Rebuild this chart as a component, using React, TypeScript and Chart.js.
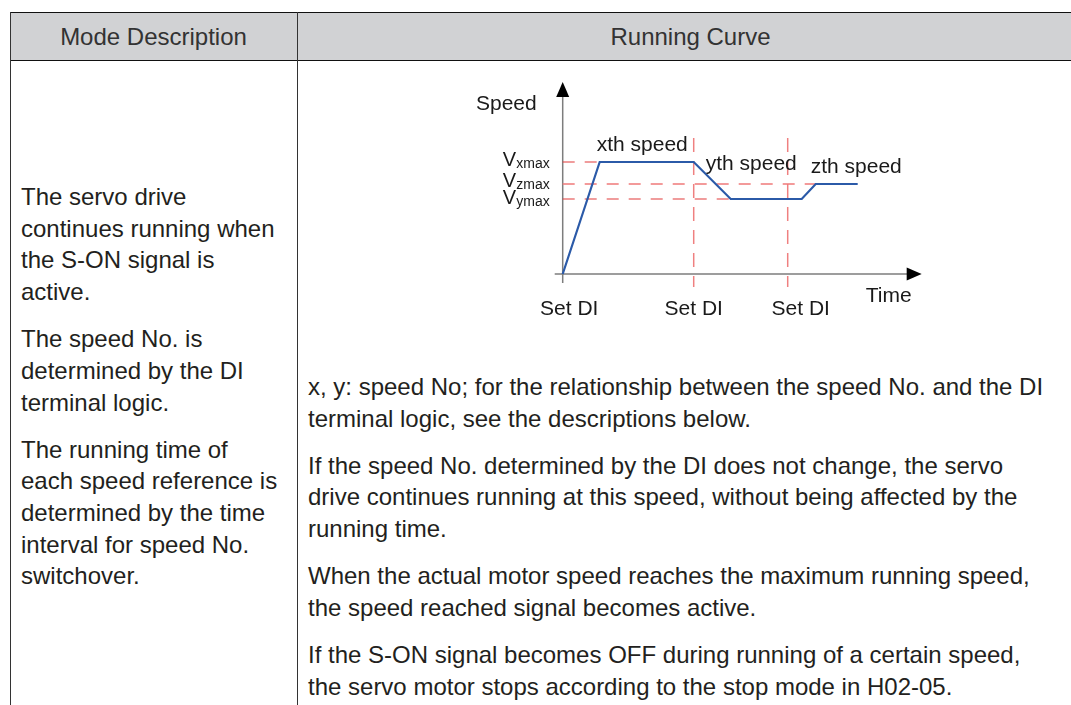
import React, { useEffect, useRef } from "react";
import { Chart, registerables } from "chart.js";

Chart.register(...registerables);

// ---- chart data (time units / speed units) ----
const curveTime = [0, 37, 131, 168, 239, 253, 295];
const curveSpeed = [0, 112, 112, 75, 75, 90, 90];
const levelValues = [112, 90, 75];
const levelSubscripts = ["xmax", "zmax", "ymax"];
const levelEndTime = [37, 253, 168];
const switchTimes = [0, 131, 225];
const switchLabels = ["Set DI", "Set DI", "Set DI"];
const segmentLabels = ["xth speed", "yth speed", "zth speed"];
const switchLineTop = 136;
const switchLineBottom = -13;
const timeAxisMax = 359;
const speedAxisMax = 192;
const axisTitles = ["Speed", "Time"];

// ---- table text ----
const headers = ["Mode Description", "Running Curve"];
const leftParagraphs = [
  ["The servo drive", "continues running when", "the S-ON signal is", "active."],
  ["The speed No. is", "determined by the DI", "terminal logic."],
  ["The running time of", "each speed reference is", "determined by the time", "interval for speed No.", "switchover."],
];
const rightParagraphs = [
  ["x, y: speed No; for the relationship between the speed No. and the DI", "terminal logic, see the descriptions below."],
  ["If the speed No. determined by the DI does not change, the servo", "drive continues running at this speed, without being affected by the", "running time."],
  ["When the actual motor speed reaches the maximum running speed,", "the speed reached signal becomes active."],
  ["If the S-ON signal becomes OFF during running of a certain speed,", "the servo motor stops according to the stop mode in H02-05."],
];

const FONT = '"Liberation Sans", Arial, Helvetica, sans-serif';

const diagramPlugin = {
  id: "diagram",
  beforeDatasetsDraw(chart: any) {
    const ctx = chart.ctx;
    const xs = chart.scales.x;
    const ys = chart.scales.y;
    const ox = xs.getPixelForValue(0);
    const oy = ys.getPixelForValue(0);
    const tx = xs.getPixelForValue(timeAxisMax);
    const ty = ys.getPixelForValue(speedAxisMax);
    ctx.save();
    ctx.strokeStyle = "#7d7d7d";
    ctx.lineWidth = 1.5;
    ctx.beginPath();
    ctx.moveTo(ox, oy + 9);
    ctx.lineTo(ox, ty + 12);
    ctx.moveTo(ox - 8, oy);
    ctx.lineTo(tx - 12, oy);
    ctx.stroke();
    ctx.fillStyle = "#000";
    ctx.beginPath();
    ctx.moveTo(ox, ty);
    ctx.lineTo(ox - 6.5, ty + 15);
    ctx.lineTo(ox + 6.5, ty + 15);
    ctx.closePath();
    ctx.fill();
    ctx.beginPath();
    ctx.moveTo(tx, oy);
    ctx.lineTo(tx - 15, oy - 6.5);
    ctx.lineTo(tx - 15, oy + 6.5);
    ctx.closePath();
    ctx.fill();
    ctx.restore();
  },
  afterDatasetsDraw(chart: any) {
    const ctx = chart.ctx;
    const xs = chart.scales.x;
    const ys = chart.scales.y;
    const px = (v: number) => xs.getPixelForValue(v);
    const py = (v: number) => ys.getPixelForValue(v);
    ctx.save();
    ctx.fillStyle = "#1a1a1a";
    ctx.textBaseline = "alphabetic";
    ctx.font = `21px ${FONT}`;
    // axis titles
    ctx.textAlign = "right";
    ctx.fillText(axisTitles[0], px(0) - 26, py(speedAxisMax) + 28);
    ctx.fillText(axisTitles[1], px(timeAxisMax) - 10, py(0) + 28);
    // segment labels
    ctx.textAlign = "left";
    ctx.fillText(segmentLabels[0], px(curveTime[1]) - 3, py(levelValues[0]) - 11);
    ctx.fillText(segmentLabels[1], px(curveTime[2]) + 12, py(levelValues[0]) + 7.5);
    ctx.fillText(segmentLabels[2], px(curveTime[4]) + 9, py(levelValues[1]) - 11);
    // switch labels
    ctx.textAlign = "center";
    const switchOffsets = [6.5, 0, 13];
    switchTimes.forEach((t, i) => {
      ctx.fillText(switchLabels[i], px(t) + switchOffsets[i], py(0) + 41);
    });
    // level labels V_sub
    const baseOffsets = [4, 3, 5];
    levelValues.forEach((v, i) => {
      const base = py(v) + baseOffsets[i];
      ctx.textAlign = "left";
      ctx.font = `20px ${FONT}`;
      ctx.fillText("V", px(0) - 60, base);
      ctx.textAlign = "right";
      ctx.font = `14px ${FONT}`;
      ctx.fillText(levelSubscripts[i], px(0) - 13, base + 2);
    });
    ctx.restore();
  },
};

function Paragraphs({ paras, left, top }: { paras: string[][]; left: number; top: number }) {
  return (
    <div
      style={{
        position: "absolute",
        left,
        top,
        fontSize: 24,
        lineHeight: "31.7px",
        color: "#231f20",
        whiteSpace: "nowrap",
      }}
    >
      {paras.map((lines, i) => (
        <div key={i} style={{ marginBottom: 15.3 }}>
          {lines.map((l, j) => (
            <div key={j}>{l}</div>
          ))}
        </div>
      ))}
    </div>
  );
}

export default function App() {
  const ref = useRef<HTMLCanvasElement>(null);

  useEffect(() => {
    const canvas = ref.current;
    if (!canvas) return;
    const levelColors = ["#e23b3b", "#f07a7a", "#e23b3b"];
    const levelWidths = [1.2, 1.6, 1.2];
    const chart = new Chart(canvas, {
      type: "line",
      data: {
        datasets: [
          {
            data: curveTime.map((t, i) => ({ x: t, y: curveSpeed[i] })),
            borderColor: "#2b5aa8",
            borderWidth: 2.2,
            pointRadius: 0,
            tension: 0,
            fill: false,
            clip: false,
          } as any,
          ...levelValues.map((v, i) => ({
            data: [
              { x: 0, y: v },
              { x: levelEndTime[i], y: v },
            ],
            borderColor: levelColors[i],
            borderWidth: levelWidths[i],
            borderDash: [12, 10],
            pointRadius: 0,
            fill: false,
            clip: false,
          })),
          ...switchTimes.slice(1).map((t) => ({
            data: [
              { x: t, y: switchLineTop },
              { x: t, y: switchLineBottom },
            ],
            borderColor: "#ef8080",
            borderWidth: 1.5,
            borderDash: [14, 9],
            pointRadius: 0,
            fill: false,
            clip: false,
          })),
        ],
      },
      options: {
        animation: false,
        responsive: false,
        devicePixelRatio: 1,
        events: [],
        layout: { padding: { left: 92.7, right: 8.3, top: 12, bottom: 56 } },
        scales: {
          x: { type: "linear", min: 0, max: timeAxisMax, display: false },
          y: { type: "linear", min: 0, max: speedAxisMax, display: false },
        },
        plugins: { legend: { display: false }, tooltip: { enabled: false } },
      },
      plugins: [diagramPlugin],
    });
    return () => chart.destroy();
  }, []);

  return (
    <div
      style={{
        position: "fixed",
        left: 0,
        top: 0,
        width: 1071,
        height: 705,
        overflow: "hidden",
        background: "#fff",
        fontFamily: FONT,
      }}
    >
      <div
        style={{
          position: "absolute",
          left: 10,
          top: 12,
          width: 1074,
          height: 49,
          boxSizing: "border-box",
          background: "#d1d2d4",
          borderTop: "1px solid #111",
          borderBottom: "1.5px solid #111",
        }}
      />
      <div style={{ position: "absolute", left: 10, top: 12, width: 1, height: 700, background: "#333" }} />
      <div style={{ position: "absolute", left: 297, top: 12, width: 1, height: 700, background: "#333" }} />
      <div
        style={{
          position: "absolute",
          left: 10,
          top: 12,
          width: 287,
          height: 49,
          display: "flex",
          alignItems: "center",
          justifyContent: "center",
          fontSize: 24,
          color: "#333",
        }}
      >
        {headers[0]}
      </div>
      <div
        style={{
          position: "absolute",
          left: 297,
          top: 12,
          width: 787,
          height: 49,
          display: "flex",
          alignItems: "center",
          justifyContent: "center",
          fontSize: 24,
          color: "#333",
        }}
      >
        {headers[1]}
      </div>
      <Paragraphs paras={leftParagraphs} left={21} top={181} />
      <Paragraphs paras={rightParagraphs} left={308} top={371} />
      <canvas
        ref={ref}
        width={460}
        height={260}
        style={{ position: "absolute", left: 470, top: 70, width: 460, height: 260 }}
      />
    </div>
  );
}
